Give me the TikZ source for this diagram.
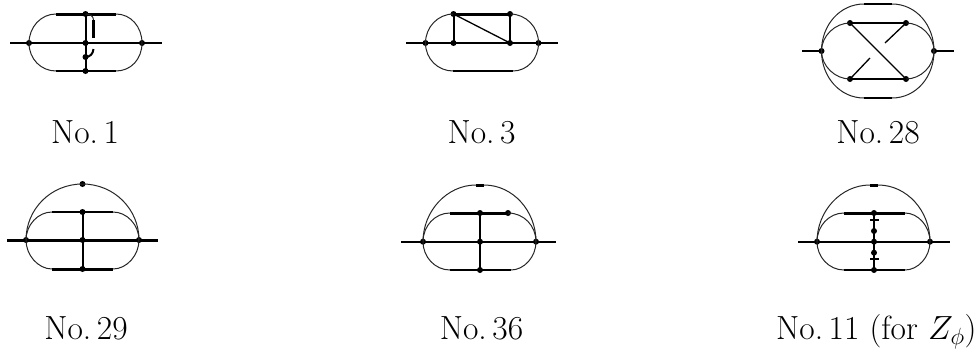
\RequirePackage{fix-cm}
\documentclass[tikz,border=0pt]{standalone}
\usepackage{fontspec}
\begin{document}
\begin{tikzpicture}[x=1pt,y=-1pt,
  vtx/.style={circle,fill=black,inner sep=0pt,minimum size=6pt},
  thinl/.style={line width=1pt,black!85},
  medl/.style={line width=2pt},
  thickl/.style={line width=3pt},
  diagl/.style={line width=1.3pt},
  lab/.style={font=\fontsize{33.5}{40}\selectfont,anchor=base,inner sep=0pt}]
\useasboundingbox (0,0) rectangle (977,348);

% --- No. 1
\coordinate (a0) at (10,43); \coordinate (a9) at (162,43);
\node[vtx] (a1) at (29,43) {}; \node[vtx] (a2) at (85.5,43) {}; \node[vtx] (a3) at (142,43) {};
\node[vtx] (a4) at (85.5,14) {}; \node[vtx] (a5) at (85.5,57) {}; \node[vtx] (a6) at (85.5,71) {};
\coordinate (atl) at (56,14); \coordinate (atr) at (116,14); \coordinate (abl) at (56,71); \coordinate (abr) at (116,71);
\coordinate (ag1) at (93.5,20); \coordinate (ag2) at (93.5,37.5); \coordinate (ag3) at (93.5,49);
\draw[medl] (a0) -- (a9);
\draw[thinl] (a1.center) .. controls (29,27) and (41,14) .. (atl);
\draw[thinl] (a3.center) .. controls (142,27) and (131,14) .. (atr);
\draw[thinl] (a1.center) .. controls (29,59) and (41,71) .. (abl);
\draw[thinl] (a3.center) .. controls (142,59) and (131,71) .. (abr);
\draw[thickl] (atl) -- (atr);
\draw[medl] (abl) -- (abr);
\draw[medl] (a4.center) -- (a6.center);
\draw[thinl] (a4.center) .. controls (90,14) and (93.5,16) .. (ag1);
\draw[thickl] (ag1) -- (ag2);
\draw[medl] (ag3) .. controls (93,54) and (90,57) .. (a5.center);

% --- No. 3
\coordinate (b0) at (406,43); \coordinate (b9) at (558,43);
\node[vtx] (b1) at (425.5,43) {}; \node[vtx] (b2) at (453.5,43) {}; \node[vtx] (b3) at (510,43) {}; \node[vtx] (b4) at (538.5,43) {};
\node[vtx] (b5) at (453.5,14) {}; \node[vtx] (b6) at (510,14) {};
\coordinate (bbl) at (453,71); \coordinate (bbr) at (513,71);
\draw[medl] (b0) -- (b9);
\draw[thinl] (b1.center) .. controls (425.5,27) and (438,14) .. (b5.center);
\draw[thinl] (b4.center) .. controls (538.5,27) and (526,14) .. (b6.center);
\draw[thinl] (b1.center) .. controls (425.5,59) and (438,71) .. (bbl);
\draw[thinl] (b4.center) .. controls (538.5,59) and (527,71) .. (bbr);
\draw[thickl] (b5.center) -- (b6.center);
\draw[medl] (bbl) -- (bbr);
\draw[medl] (b5.center) -- (b2.center);
\draw[medl] (b6.center) -- (b3.center);
\draw[diagl] (b5.center) -- (b3.center);

% --- No. 28
\coordinate (c0) at (802,51); \coordinate (c9) at (954,51);
\node[vtx] (c1) at (821.5,51) {}; \node[vtx] (c2) at (934,51) {};
\node[vtx] (c3) at (850,23) {}; \node[vtx] (c4) at (906,23) {};
\node[vtx] (c5) at (850,79) {}; \node[vtx] (c6) at (906,79) {};
\coordinate (ctl) at (864,4); \coordinate (ctr) at (892,4); \coordinate (cbl) at (864,98); \coordinate (cbr) at (892,98);
\coordinate (cx1) at (885,43); \coordinate (cx2) at (870,58);
\draw[medl] (c0) -- (c1.center);
\draw[medl] (c2.center) -- (c9);
\draw[thinl] (c1.center) .. controls (821.5,25) and (840,4) .. (ctl);
\draw[thinl] (c2.center) .. controls (934,25) and (916,4) .. (ctr);
\draw[thinl] (c1.center) .. controls (821.5,77) and (840,98) .. (cbl);
\draw[thinl] (c2.center) .. controls (934,77) and (916,98) .. (cbr);
\draw[medl] (ctl) -- (ctr);
\draw[medl] (cbl) -- (cbr);
\draw[thinl] (c1.center) .. controls (821.5,36) and (835,23) .. (c3.center);
\draw[thinl] (c2.center) .. controls (934,36) and (921,23) .. (c4.center);
\draw[thinl] (c1.center) .. controls (821.5,66) and (835,79) .. (c5.center);
\draw[thinl] (c2.center) .. controls (934,66) and (921,79) .. (c6.center);
\draw[medl] (c3.center) -- (c4.center);
\draw[medl] (c5.center) -- (c6.center);
\draw[diagl] (c3.center) -- (c6.center);
\draw[diagl] (c4.center) -- (cx1);
\draw[diagl] (c5.center) -- (cx2);

% --- No. 29
\coordinate (d0) at (7,240); \coordinate (d9) at (158,240);
\node[vtx] (d1) at (26,240) {}; \node[vtx] (d2) at (82.5,240) {}; \node[vtx] (d3) at (139,240) {};
\node[vtx] (d4) at (82.5,184) {}; \node[vtx] (d5) at (82.5,212) {}; \node[vtx] (d6) at (82.5,269) {};
\coordinate (dtl) at (52,212); \coordinate (dtr) at (113,212); \coordinate (dbl) at (52,269); \coordinate (dbr) at (113,269);
\draw[thickl] (d0) -- (d9);
\draw[thinl] (d1.center) .. controls (26,209) and (51,184) .. (d4.center);
\draw[thinl] (d3.center) .. controls (139,209) and (114,184) .. (d4.center);
\draw[thinl] (d1.center) .. controls (26,225) and (38,212) .. (dtl);
\draw[thinl] (d3.center) .. controls (139,225) and (127,212) .. (dtr);
\draw[thinl] (d1.center) .. controls (26,255) and (38,269) .. (dbl);
\draw[thinl] (d3.center) .. controls (139,255) and (127,269) .. (dbr);
\draw[medl] (dtl) -- (dtr);
\draw[thickl] (dbl) -- (dbr);
\draw[medl] (d5.center) -- (d6.center);

% --- No. 36
\coordinate (e0) at (401,241.7); \coordinate (e9) at (556,241.7);
\node[vtx] (e1) at (423,241.7) {}; \node[vtx] (e2) at (480,241.7) {}; \node[vtx] (e3) at (536,241.7) {};
\node[vtx] (e5) at (480,213) {}; \node[vtx] (e7) at (508,213) {}; \node[vtx] (e6) at (480,270) {};
\coordinate (ea) at (476,185); \coordinate (eb) at (484,185);
\coordinate (etl) at (450,213); \coordinate (ebl) at (450,270); \coordinate (ebr) at (511,270);
\draw[medl] (e0) -- (e9);
\draw[thinl] (e1.center) .. controls (423,211) and (447,185) .. (ea);
\draw[thinl] (e3.center) .. controls (536,211) and (513,185) .. (eb);
\draw[thickl] (ea) -- (eb);
\draw[thinl] (e1.center) .. controls (423,226) and (435,213) .. (etl);
\draw[thinl] (e3.center) .. controls (536,226) and (524,213) .. (e7.center);
\draw[thinl] (e1.center) .. controls (423,257) and (435,270) .. (ebl);
\draw[thinl] (e3.center) .. controls (536,257) and (524,270) .. (ebr);
\draw[thickl] (etl) -- (e7.center);
\draw[medl] (ebl) -- (ebr);
\draw[medl] (e5.center) -- (e6.center);

% --- No. 11
\coordinate (f0) at (798,241.7); \coordinate (f9) at (950,241.7);
\node[vtx] (f1) at (817,241.7) {}; \node[vtx] (f2) at (874,241.7) {}; \node[vtx] (f3) at (930,241.7) {};
\node[vtx] (f5) at (874,213) {}; \node[vtx] (f6) at (874,270) {};
\node[vtx] (f7) at (874,231) {}; \node[vtx] (f8) at (874,252.7) {};
\coordinate (fa) at (870,185); \coordinate (fb) at (878,185);
\coordinate (ftl) at (844,213); \coordinate (ftr) at (905,213); \coordinate (fbl) at (844,270); \coordinate (fbr) at (905,270);
\coordinate (ft1) at (870,219.7); \coordinate (ft2) at (878.5,219.7); \coordinate (ft3) at (870,259); \coordinate (ft4) at (878.5,259);
\draw[medl] (f0) -- (f9);
\draw[thinl] (f1.center) .. controls (817,211) and (841,185) .. (fa);
\draw[thinl] (f3.center) .. controls (930,211) and (907,185) .. (fb);
\draw[thickl] (fa) -- (fb);
\draw[thinl] (f1.center) .. controls (817,226) and (829,213) .. (ftl);
\draw[thinl] (f3.center) .. controls (930,226) and (918,213) .. (ftr);
\draw[thinl] (f1.center) .. controls (817,257) and (829,270) .. (fbl);
\draw[thinl] (f3.center) .. controls (930,257) and (918,270) .. (fbr);
\draw[thickl] (ftl) -- (ftr);
\draw[medl] (fbl) -- (fbr);
\draw[medl] (f5.center) -- (f6.center);
\draw[medl] (ft1) -- (ft2);
\draw[medl] (ft3) -- (ft4);

% --- labels
\node[lab] (l1) at (85,143) {No.\,1};
\node[lab] (l2) at (481.5,143) {No.\,3};
\node[lab] (l3) at (878,143) {No.\,28};
\node[lab] (l4) at (86,339) {No.\,29};
\node[lab] (l5) at (481.5,339) {No.\,36};
\node[lab,anchor=base west] (l6) at (776,339) {No.\,11 (for $Z_\phi$)};
\end{tikzpicture}
\end{document}
